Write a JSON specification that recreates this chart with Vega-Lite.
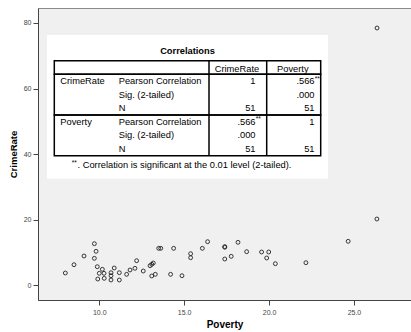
{
  "$schema": "https://vega.github.io/schema/vega-lite/v6.json",
  "width": 373,
  "height": 292,
  "autosize": "none",
  "padding": {"left": 38, "top": 8, "right": 0, "bottom": 32},
  "background": "#ffffff",
  "config": {
    "font": "Liberation Sans",
    "view": {"fill": "#f0f0f0", "stroke": "#8a8a8a", "strokeWidth": 1}
  },
  "datasets": {
    "points": [
      {"Poverty": 8.0, "CrimeRate": 3.75},
      {"Poverty": 8.51, "CrimeRate": 6.28},
      {"Poverty": 9.1, "CrimeRate": 8.94},
      {"Poverty": 9.71, "CrimeRate": 12.69},
      {"Poverty": 9.81, "CrimeRate": 10.37},
      {"Poverty": 9.71, "CrimeRate": 8.23},
      {"Poverty": 9.88, "CrimeRate": 5.67},
      {"Poverty": 10.18, "CrimeRate": 4.88},
      {"Poverty": 10.0, "CrimeRate": 3.66},
      {"Poverty": 9.91, "CrimeRate": 1.92},
      {"Poverty": 10.28, "CrimeRate": 3.66},
      {"Poverty": 10.29, "CrimeRate": 2.13},
      {"Poverty": 10.69, "CrimeRate": 3.84},
      {"Poverty": 10.69, "CrimeRate": 2.93},
      {"Poverty": 10.69, "CrimeRate": 1.62},
      {"Poverty": 10.88, "CrimeRate": 5.28},
      {"Poverty": 11.18, "CrimeRate": 3.84},
      {"Poverty": 11.18, "CrimeRate": 1.62},
      {"Poverty": 11.61, "CrimeRate": 3.35},
      {"Poverty": 11.81, "CrimeRate": 4.67},
      {"Poverty": 12.1, "CrimeRate": 5.18},
      {"Poverty": 12.2, "CrimeRate": 7.5},
      {"Poverty": 12.59, "CrimeRate": 4.36},
      {"Poverty": 12.99, "CrimeRate": 5.98},
      {"Poverty": 13.09, "CrimeRate": 6.4},
      {"Poverty": 13.18, "CrimeRate": 6.8},
      {"Poverty": 13.09, "CrimeRate": 2.84},
      {"Poverty": 13.3, "CrimeRate": 3.35},
      {"Poverty": 13.5, "CrimeRate": 11.28},
      {"Poverty": 13.62, "CrimeRate": 11.28},
      {"Poverty": 14.38, "CrimeRate": 11.28},
      {"Poverty": 14.2, "CrimeRate": 3.35},
      {"Poverty": 14.87, "CrimeRate": 2.93},
      {"Poverty": 15.38, "CrimeRate": 9.64},
      {"Poverty": 15.38, "CrimeRate": 8.42},
      {"Poverty": 16.07, "CrimeRate": 11.28},
      {"Poverty": 16.38, "CrimeRate": 13.3},
      {"Poverty": 17.39, "CrimeRate": 11.6},
      {"Poverty": 17.39, "CrimeRate": 11.8},
      {"Poverty": 17.39, "CrimeRate": 8.02},
      {"Poverty": 17.77, "CrimeRate": 8.84},
      {"Poverty": 18.17, "CrimeRate": 13.11},
      {"Poverty": 18.68, "CrimeRate": 10.25},
      {"Poverty": 19.56, "CrimeRate": 10.16},
      {"Poverty": 19.98, "CrimeRate": 10.16},
      {"Poverty": 19.86, "CrimeRate": 8.33},
      {"Poverty": 20.37, "CrimeRate": 6.59},
      {"Poverty": 22.17, "CrimeRate": 6.89},
      {"Poverty": 24.66, "CrimeRate": 13.42},
      {"Poverty": 26.35, "CrimeRate": 20.22},
      {"Poverty": 26.36, "CrimeRate": 78.47}
    ],
    "table": [{"table": "Correlations"}],
    "blocks": [
      {"table": "Correlations", "block": "header", "r0": 0, "r1": 1},
      {"table": "Correlations", "block": "CrimeRate", "r0": 1, "r1": 4},
      {"table": "Correlations", "block": "Poverty", "r0": 4, "r1": 7}
    ],
    "edges": [
      {"edge": "stat|CrimeRate", "r0": 0, "r1": 7},
      {"edge": "CrimeRate|Poverty", "r0": 0, "r1": 7}
    ],
    "headers": [
      {"row": 0, "col": "CrimeRate", "text": "CrimeRate"},
      {"row": 0, "col": "Poverty", "text": "Poverty"}
    ],
    "labels": [
      {"row": 1, "col": "var", "text": "CrimeRate"},
      {"row": 1, "col": "stat", "text": "Pearson Correlation"},
      {"row": 2, "col": "stat", "text": "Sig. (2-tailed)"},
      {"row": 3, "col": "stat", "text": "N"},
      {"row": 4, "col": "var", "text": "Poverty"},
      {"row": 4, "col": "stat", "text": "Pearson Correlation"},
      {"row": 5, "col": "stat", "text": "Sig. (2-tailed)"},
      {"row": 6, "col": "stat", "text": "N"}
    ],
    "values": [
      {"row": 1, "col": "CrimeRate", "text": "1", "sig": ""},
      {"row": 1, "col": "Poverty", "text": ".566", "sig": "**"},
      {"row": 2, "col": "Poverty", "text": ".000", "sig": ""},
      {"row": 3, "col": "CrimeRate", "text": "51", "sig": ""},
      {"row": 3, "col": "Poverty", "text": "51", "sig": ""},
      {"row": 4, "col": "CrimeRate", "text": ".566", "sig": "**"},
      {"row": 4, "col": "Poverty", "text": "1", "sig": ""},
      {"row": 5, "col": "CrimeRate", "text": ".000", "sig": ""},
      {"row": 6, "col": "CrimeRate", "text": "51", "sig": ""},
      {"row": 6, "col": "Poverty", "text": "51", "sig": ""}
    ],
    "note": [{"marker": "**", "text": ". Correlation is significant at the 0.01 level (2-tailed)."}]
  },
  "resolve": {"scale": {"x": "independent", "y": "independent"}},
  "layer": [
    {
      "data": {"name": "points"},
      "mark": {"type": "point", "filled": false, "stroke": "#222222", "strokeWidth": 0.9, "size": 15, "opacity": 1},
      "encoding": {
        "x": {
          "field": "Poverty", "type": "quantitative",
          "scale": {"domain": [6.39, 28.36], "nice": false, "zero": false},
          "axis": {"values": [10, 15, 20, 25], "format": ".1f", "grid": false, "tickSize": 5,
            "labelFontSize": 7, "labelColor": "#444444", "domainColor": "#444444", "tickColor": "#444444",
            "title": "Poverty", "titleFontSize": 10, "titleFontWeight": "bold", "titleColor": "#000000",
            "labelPadding": 3, "titlePadding": 4}
        },
        "y": {
          "field": "CrimeRate", "type": "quantitative",
          "scale": {"domain": [-4.48, 84.57], "nice": false, "zero": false},
          "axis": {"values": [0, 20, 40, 60, 80], "format": "d", "grid": false, "tickSize": 5,
            "labelFontSize": 7, "labelColor": "#444444", "domainColor": "#444444", "tickColor": "#444444",
            "title": "CrimeRate", "titleFontSize": 9.5, "titleFontWeight": "bold", "titleColor": "#000000",
            "labelPadding": 2, "titlePadding": 5}
        }
      }
    },
    {
      "data": {"name": "table"},
      "mark": {"type": "rect", "fill": "#ffffff", "strokeWidth": 0},
      "encoding": {
        "x": {"field": "table", "type": "nominal", "axis": null,
          "scale": {"type": "band", "range": [9, 290], "paddingInner": 0, "paddingOuter": 0}},
        "y": {"field": "table", "type": "nominal", "axis": null,
          "scale": {"type": "band", "range": [27, 170.7], "paddingInner": 0, "paddingOuter": 0}}
      }
    },
    {
      "data": {"name": "table"},
      "mark": {"type": "text", "fontSize": 9.3, "fontWeight": "bold", "color": "#000000", "align": "center", "baseline": "middle"},
      "encoding": {
        "x": {"field": "table", "type": "nominal", "axis": null,
          "scale": {"type": "band", "range": [9, 290], "paddingInner": 0, "paddingOuter": 0}},
        "y": {"field": "table", "type": "nominal", "axis": null,
          "scale": {"type": "band", "range": [36, 50], "paddingInner": 0, "paddingOuter": 0}},
        "text": {"field": "table"}
      }
    },
    {
      "data": {"name": "blocks"},
      "mark": {"type": "rect", "filled": false, "stroke": "#000000", "strokeWidth": 1.5},
      "encoding": {
        "x": {"field": "table", "type": "nominal", "axis": null,
          "scale": {"type": "band", "range": [16.3, 282.7], "paddingInner": 0, "paddingOuter": 0}},
        "y": {"field": "r0", "type": "quantitative", "axis": null,
          "scale": {"domain": [0, 7], "range": [52.7, 147.7], "nice": false, "zero": false}},
        "y2": {"field": "r1"}
      }
    },
    {
      "data": {"name": "edges"},
      "mark": {"type": "rule", "stroke": "#000000", "strokeWidth": 1.5},
      "encoding": {
        "x": {"field": "edge", "type": "nominal", "axis": null,
          "scale": {"type": "point", "domain": ["stat|CrimeRate", "CrimeRate|Poverty"], "range": [171, 228.7], "padding": 0}},
        "y": {"field": "r0", "type": "quantitative", "axis": null,
          "scale": {"domain": [0, 7], "range": [52.7, 147.7], "nice": false, "zero": false}},
        "y2": {"field": "r1"}
      }
    },
    {
      "data": {"name": "headers"},
      "mark": {"type": "text", "fontSize": 9.3, "color": "#000000", "align": "center", "baseline": "middle", "dy": 2},
      "encoding": {
        "x": {"field": "col", "type": "nominal", "axis": null,
          "scale": {"type": "band", "domain": ["CrimeRate", "Poverty"], "range": [171, 282.7], "paddingInner": 0, "paddingOuter": 0}},
        "y": {"field": "row", "type": "ordinal", "axis": null,
          "scale": {"type": "band", "domain": [0, 1, 2, 3, 4, 5, 6], "range": [52.7, 147.7], "paddingInner": 0, "paddingOuter": 0}},
        "text": {"field": "text"}
      }
    },
    {
      "data": {"name": "labels"},
      "mark": {"type": "text", "fontSize": 9.3, "color": "#000000", "align": "left", "baseline": "middle"},
      "encoding": {
        "x": {"field": "col", "type": "nominal", "axis": null,
          "scale": {"type": "point", "domain": ["var", "stat"], "range": [22.3, 80.7], "padding": 0}},
        "y": {"field": "row", "type": "ordinal", "axis": null,
          "scale": {"type": "band", "domain": [0, 1, 2, 3, 4, 5, 6], "range": [52.7, 147.7], "paddingInner": 0, "paddingOuter": 0}},
        "text": {"field": "text"}
      }
    },
    {
      "data": {"name": "values"},
      "mark": {"type": "text", "fontSize": 9.3, "color": "#000000", "align": "right", "baseline": "middle"},
      "encoding": {
        "x": {"field": "col", "type": "nominal", "axis": null,
          "scale": {"type": "point", "domain": ["CrimeRate", "Poverty"], "range": [217.5, 276.5], "padding": 0}},
        "y": {"field": "row", "type": "ordinal", "axis": null,
          "scale": {"type": "band", "domain": [0, 1, 2, 3, 4, 5, 6], "range": [52.7, 147.7], "paddingInner": 0, "paddingOuter": 0}},
        "text": {"field": "text"}
      }
    },
    {
      "data": {"name": "values"},
      "transform": [{"filter": "datum.sig != ''"}],
      "mark": {"type": "text", "fontSize": 6.5, "color": "#000000", "align": "left", "baseline": "middle", "dx": 0.3, "dy": -2.5},
      "encoding": {
        "x": {"field": "col", "type": "nominal", "axis": null,
          "scale": {"type": "point", "domain": ["CrimeRate", "Poverty"], "range": [217.5, 276.5], "padding": 0}},
        "y": {"field": "row", "type": "ordinal", "axis": null,
          "scale": {"type": "band", "domain": [0, 1, 2, 3, 4, 5, 6], "range": [52.7, 147.7], "paddingInner": 0, "paddingOuter": 0}},
        "text": {"field": "sig"}
      }
    },
    {
      "data": {"name": "note"},
      "mark": {"type": "text", "fontSize": 6.5, "color": "#000000", "align": "left", "baseline": "middle", "dy": -2.5},
      "encoding": {
        "x": {"field": "marker", "type": "nominal", "axis": null, "bandPosition": 0,
          "scale": {"type": "band", "range": [33.7, 40], "paddingInner": 0, "paddingOuter": 0}},
        "y": {"field": "marker", "type": "nominal", "axis": null,
          "scale": {"type": "band", "range": [150, 164], "paddingInner": 0, "paddingOuter": 0}},
        "text": {"field": "marker"}
      }
    },
    {
      "data": {"name": "note"},
      "mark": {"type": "text", "fontSize": 9.3, "color": "#000000", "align": "left", "baseline": "middle"},
      "encoding": {
        "x": {"field": "text", "type": "nominal", "axis": null, "bandPosition": 0,
          "scale": {"type": "band", "range": [39.5, 290], "paddingInner": 0, "paddingOuter": 0}},
        "y": {"field": "text", "type": "nominal", "axis": null,
          "scale": {"type": "band", "range": [150, 164], "paddingInner": 0, "paddingOuter": 0}},
        "text": {"field": "text"}
      }
    }
  ]
}
